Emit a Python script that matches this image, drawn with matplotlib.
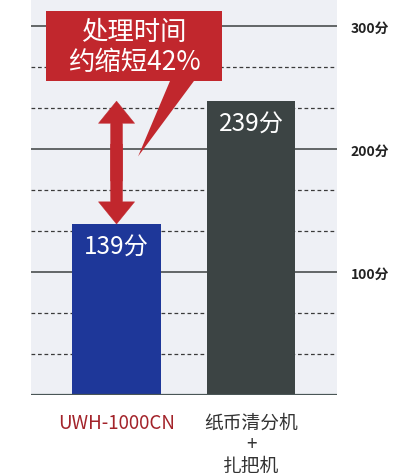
import numpy as np
import matplotlib
matplotlib.use("Agg")
import matplotlib.pyplot as plt
from matplotlib.patches import Polygon

plt.rcParams['font.family'] = ['Noto Sans CJK SC', 'DejaVu Sans']

# data
categories = ["UWH-1000CN", "纸币清分机\n+\n扎把机"]
values = [139, 239]
value_labels = ["139分", "239分"]
bar_colors = ["#1e3799", "#3c4444"]
label_colors = ["#a3232a", "#333333"]
major_ticks = [100, 200, 300]
major_labels = ["100分", "200分", "300分"]
minor_step = 100 / 3
callout_lines = "处理时间\n约缩短42%"

red = "#c1272d"

fig = plt.figure(figsize=(4.2, 4.77), dpi=100)
ax = fig.add_axes([31 / 420, 81 / 477, 306 / 420, 396 / 477])
ax.set_facecolor("#eef0f5")

x = np.arange(len(categories))
ax.set_xlim(-0.636, 1.639)
ax.set_ylim(0, 322)

# grid: dashed minors, solid majors
for k in range(1, 10):
    v = k * minor_step
    if k % 3 == 0:
        ax.axhline(v, color="#4a4f4f", lw=1.2, zorder=1)
    else:
        ax.axhline(v, color="#3a3a3a", lw=0.9, ls=(0, (3, 2.2)), zorder=1)
ax.axhline(0, color="#4a5656", lw=1.6, zorder=3)

bars = ax.bar(x, values, width=0.66, color=bar_colors, zorder=2)
for b, lab in zip(bars, value_labels):
    ax.text(b.get_x() + b.get_width() / 2, b.get_height() - 8, lab,
            ha="center", va="top", color="white", fontsize=17.5, zorder=4)

# double arrow between the two values (halves overlap in the middle)
mid = (values[0] + values[1]) / 2
style = "simple,head_length=16,head_width=26,tail_width=8.6"
for end, start in zip(values, [mid + 15, mid - 15]):
    ax.annotate("", xy=(x[0], end), xytext=(x[0], start),
                arrowprops=dict(arrowstyle=style, mutation_scale=1, fc=red,
                                ec=red, lw=0.3, shrinkA=0, shrinkB=0), zorder=5)

# callout box with tail
box = Polygon([(-0.524, 255), (0.784, 255), (0.784, 312), (-0.524, 312)],
              closed=True, fc=red, ec="none", zorder=6)
ax.add_patch(box)
tail = Polygon([(0.40, 256), (0.58, 256), (0.16, 194)], closed=True,
               fc=red, ec="none", zorder=6)
ax.add_patch(tail)
ax.text(0.13, 283.5, callout_lines, ha="center", va="center", color="white",
        fontsize=19, linespacing=1.15, zorder=7)

# axes styling
for s in ax.spines.values():
    s.set_visible(False)
ax.yaxis.tick_right()
ax.set_yticks(major_ticks)
ax.set_yticklabels(major_labels, fontsize=10, color="#222222")
ax.tick_params(axis="y", length=0, pad=10)
for t in ax.get_yticklabels():
    t.set_fontweight("bold")

ax.set_xticks(x)
ax.set_xticklabels(categories, fontsize=13.5, linespacing=1.05, va="top")
ax.tick_params(axis="x", length=0, pad=12)
for t, c in zip(ax.get_xticklabels(), label_colors):
    t.set_color(c)

fig.savefig("out.png", dpi=100)
